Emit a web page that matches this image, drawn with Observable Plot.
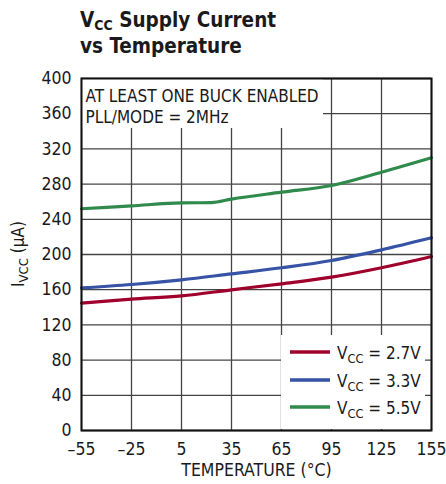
<!DOCTYPE html>
<html>
<head>
<meta charset="utf-8">
<script src="https://cdn.jsdelivr.net/npm/d3@7"></script>
<script src="https://cdn.jsdelivr.net/npm/@observablehq/plot@0.6"></script>
<style>
  body { margin: 0; background: #fff; }
  #wrap { position: relative; width: 446px; height: 484px; }
  .tl { position: absolute; left: 80px; font-family: "DejaVu Sans Condensed", "Liberation Sans Narrow", sans-serif; font-stretch: condensed; font-weight: bold; font-size: 20.5px; line-height: 22px; color: #1a1a1a; white-space: nowrap; }
  .tl sub { font-size: 14px; vertical-align: -3px; line-height: 0; }
</style>
</head>
<body>
<div id="wrap">
  <div class="tl" id="t1" style="top:9px">V<sub>CC</sub> Supply Current</div>
  <div class="tl" id="t2" style="top:35px">vs Temperature</div>
</div>
<script>
const FONT = '"DejaVu Sans Condensed", "Liberation Sans Narrow", sans-serif';
const temps27 = [-55, -25, 5, 35, 65, 95, 125, 155];
const vcc27 = [144.7, 149.2, 153, 159.9, 166.7, 174.2, 184.9, 197.7];
const temps33 = [-55, -25, 5, 35, 65, 95, 125, 155];
const vcc33 = [162, 165.9, 171.2, 178, 184.9, 193.2, 205.3, 219];
const temps55 = [-55, -25, 5, 23, 35, 65, 95, 125, 155];
const vcc55 = [252, 255.3, 258.6, 259, 263, 270.8, 278.4, 293.5, 309.9];
const seriesNames = ["2.7V", "3.3V", "5.5V"];
const colors = ["#a0002c", "#3653a6", "#2f8a4c"];
const xTicks = [-55, -25, 5, 35, 65, 95, 125, 155];
const yTicks = [0, 40, 80, 120, 160, 200, 240, 280, 320, 360, 400];
const noteLines = ["AT LEAST ONE BUCK ENABLED", "PLL/MODE = 2MHz"];

const rows = [];
[[temps27, vcc27], [temps33, vcc33], [temps55, vcc55]].forEach(([t, v], i) => {
  t.forEach((x, j) => rows.push({series: seriesNames[i], t: x, i: v[j]}));
});

const svgNS = "http://www.w3.org/2000/svg";
function el(name, attrs) {
  const e = document.createElementNS(svgNS, name);
  for (const k in attrs) e.setAttribute(k, attrs[k]);
  return e;
}
function vccText(x, y, rest, size) {
  const t = el("text", {x, y, "text-anchor": "start", "font-family": FONT, "font-size": size, fill: "#1a1a1a"});
  const a = el("tspan", {}); a.textContent = "V"; t.appendChild(a);
  const b = el("tspan", {dy: 4, "font-size": size * 0.75}); b.textContent = "CC"; t.appendChild(b);
  const c = el("tspan", {dy: -4}); c.textContent = rest; t.appendChild(c);
  return t;
}

const boxes = () => {
  const g = el("g", {});
  g.appendChild(el("rect", {x: 82, y: 79, width: 241, height: 49, fill: "#fff"}));
  g.appendChild(el("rect", {x: 281, y: 335, width: 144, height: 94, fill: "#fff"}));
  return g;
};

const legend = () => {
  const g = el("g", {});
  const ys = [352, 380, 407];
  seriesNames.forEach((s, i) => {
    g.appendChild(el("line", {x1: 290, x2: 330, y1: ys[i], y2: ys[i], stroke: colors[i], "stroke-width": 3.5}));
    g.appendChild(vccText(337, ys[i] + 7, " = " + s, 17));
  });
  return g;
};

const ylabel = () => {
  const t = el("text", {transform: "translate(24,254) rotate(-90)", "text-anchor": "middle", "font-family": FONT, "font-size": 17, fill: "#1a1a1a"});
  const a = el("tspan", {}); a.textContent = "I"; t.appendChild(a);
  const b = el("tspan", {dy: 4, "font-size": 13}); b.textContent = "VCC"; t.appendChild(b);
  const c = el("tspan", {dy: -4}); c.textContent = " (µA)"; t.appendChild(c);
  return t;
};

const fmt = d => d < 0 ? "\u2013" + (-d) : String(d);

const chart = Plot.plot({
  width: 446,
  height: 484,
  marginLeft: 81,
  marginRight: 15,
  marginTop: 78,
  marginBottom: 54,
  style: {fontFamily: FONT, fontSize: "17px", color: "#1a1a1a", background: "#fff"},
  x: {domain: [-55, 155], ticks: xTicks, tickFormat: fmt, label: null},
  y: {domain: [0, 400], ticks: yTicks, label: null},
  color: {domain: seriesNames, range: colors},
  marks: [
    Plot.gridX(xTicks, {stroke: "#444", strokeOpacity: 1, strokeWidth: 1.3}),
    Plot.gridY(yTicks, {stroke: "#444", strokeOpacity: 1, strokeWidth: 1.3}),
    boxes,
    Plot.line(rows, {x: "t", y: "i", z: "series", stroke: "series", strokeWidth: 3.2, curve: "monotone-x"}),
    Plot.axisX(xTicks, {tickSize: 0, tickPadding: 12, tickFormat: fmt, fontSize: 17.5, label: null}),
    Plot.axisY(yTicks, {tickSize: 0, tickPadding: 10, fontSize: 17.5, label: null}),
    Plot.text([noteLines.join("\n")], {frameAnchor: "top-left", lineAnchor: "top", textAnchor: "start", dx: 4, dy: 8, fontSize: 17, lineHeight: 1.25, fill: "#1a1a1a"}),
    Plot.text(["TEMPERATURE (°C)"], {frameAnchor: "bottom", dy: 45, fontSize: 17.5, fill: "#1a1a1a"}),
    legend,
    ylabel,
    Plot.frame({stroke: "#111", strokeWidth: 2})
  ]
});
document.getElementById("wrap").prepend(chart);
chart.style.position = "absolute";
chart.style.left = "0";
chart.style.top = "0";
</script>
</body>
</html>
